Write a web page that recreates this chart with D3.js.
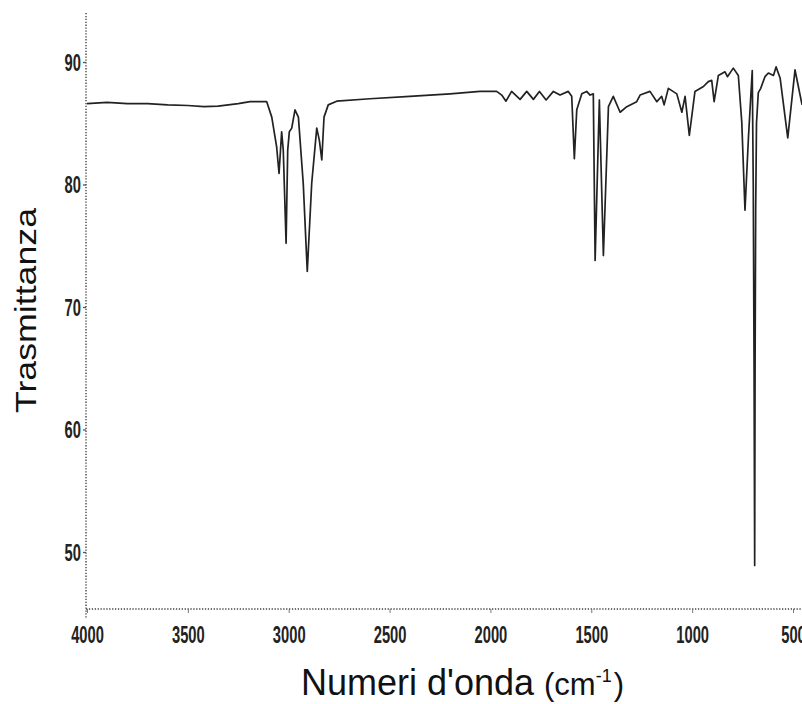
<!DOCTYPE html>
<html>
<head>
<meta charset="utf-8">
<script src="https://cdn.jsdelivr.net/npm/d3@7"></script>
<style>
  html, body { margin: 0; padding: 0; background: #fff; }
  svg { display: block; }
</style>
</head>
<body>
<svg id="chart" width="802" height="704"></svg>
<script>
// ---- data ----
const wavenumbers = [
  4000, 3900, 3800, 3700, 3600, 3500, 3420, 3350, 3250, 3192, 3109,
  3084, 3060, 3048, 3035, 3027, 3013, 3005, 2997, 2985, 2969, 2952, 2928, 2908, 2886,
  2861, 2848, 2836, 2825, 2804, 2762, 2597, 2400, 2200, 2052,
  1969, 1944, 1923, 1895, 1853, 1820, 1787, 1757, 1724, 1688, 1655, 1614, 1597, 1584,
  1572, 1547, 1523, 1506, 1490, 1481, 1460, 1440, 1415, 1391, 1357, 1324, 1275, 1258,
  1209, 1175, 1151, 1139, 1118, 1076, 1051, 1035, 1014, 986, 944, 920, 903, 891, 870,
  837, 825, 796, 771, 754, 738, 721, 702, 697, 693, 690, 688, 685, 681, 672, 660, 639, 622,
  597, 584, 564, 526, 490, 455
];
const transmittance = [
  86.6, 86.7, 86.6, 86.6, 86.5, 86.45, 86.35, 86.4, 86.6, 86.76, 86.76,
  85.5, 83.1, 80.9, 84.3, 82.8, 75.2, 82.8, 84.3, 84.6, 86.1, 85.5, 80.1, 72.9, 80.1,
  84.6, 83.6, 82.0, 85.5, 86.5, 86.8, 87.0, 87.2, 87.4, 87.6,
  87.6, 87.3, 86.8, 87.6, 86.95, 87.6, 86.95, 87.6, 86.9, 87.6, 87.3, 87.6, 87.2, 82.1,
  86.1, 87.4, 87.6, 87.3, 87.4, 73.8, 86.9, 74.2, 86.35, 87.2, 85.9, 86.35, 86.76, 87.3,
  87.6, 86.76, 87.2, 86.5, 87.85, 87.4, 85.9, 87.2, 84.0, 87.6, 88.0, 88.4, 88.5, 86.76, 88.9,
  89.2, 88.8, 89.5, 88.9, 85.1, 77.9, 83.8, 89.3, 80.0, 65.0, 48.9, 65.0, 78.0, 85.0, 87.5, 87.85, 88.8, 89.1,
  88.9, 89.6, 88.7, 83.8, 89.35, 86.5
];
const xTicks = [4000, 3500, 3000, 2500, 2000, 1500, 1000, 500];
const yTicks = [50, 60, 70, 80, 90];
const xTitle = "Numeri d'onda";
const yTitle = "Trasmittanza";

// ---- layout ----
const svg = d3.select("#chart");
const axisX0 = 86, axisX1 = 802;   // x-axis line extent
const axisY0 = 13, axisY1 = 609;   // y-axis line extent
const x = d3.scaleLinear().domain([4000, 500]).range([87, 793]);
const y = d3.scaleLinear().domain([50, 90]).range([552, 62]);
const ink = "#222";
const tickFont = "'Liberation Sans', Arial, sans-serif";

svg.append("rect").attr("width", 802).attr("height", 704).attr("fill", "#fff");

// dotted axis lines
svg.append("line")
  .attr("x1", axisX0).attr("x2", axisX0).attr("y1", axisY0).attr("y2", axisY1 + 9)
  .attr("stroke", "#444").attr("stroke-width", 1.4).attr("stroke-dasharray", "1.3,1.6");
svg.append("line")
  .attr("x1", axisX0).attr("x2", axisX1).attr("y1", axisY1).attr("y2", axisY1)
  .attr("stroke", "#444").attr("stroke-width", 1.4).attr("stroke-dasharray", "1.3,1.6");

// x axis ticks
const gx = svg.append("g").attr("transform", `translate(0,${axisY1})`)
  .call(d3.axisBottom(x).tickValues(xTicks).tickSize(4).tickSizeOuter(0).tickPadding(14)
    .tickFormat(d3.format("d")));
gx.select(".domain").remove();
gx.selectAll(".tick line").attr("stroke", "#777").attr("stroke-width", 1);
gx.selectAll(".tick text")
  .attr("fill", ink).attr("font-family", tickFont).attr("font-size", 23)
  .attr("font-weight", "bold")
  .attr("transform", "scale(0.64,1)").attr("dy", "0.71em");

// y axis ticks
const gy = svg.append("g").attr("transform", `translate(${axisX0},0)`)
  .call(d3.axisLeft(y).tickValues(yTicks).tickSize(3).tickSizeOuter(0).tickPadding(5)
    .tickFormat(d3.format("d")));
gy.select(".domain").remove();
gy.selectAll(".tick line").attr("stroke", "#555").attr("stroke-width", 1.3);
gy.selectAll(".tick text")
  .attr("fill", ink).attr("font-family", tickFont).attr("font-size", 23)
  .attr("font-weight", "bold")
  .attr("transform", "scale(0.64,1)").attr("dy", "0.36em");

// spectrum line
const data = wavenumbers.map((w, i) => [w, transmittance[i]]);
svg.append("path")
  .datum(data)
  .attr("fill", "none")
  .attr("stroke", ink)
  .attr("stroke-width", 1.7)
  .attr("stroke-linejoin", "round")
  .attr("d", d3.line().x(d => x(d[0])).y(d => y(d[1])));

// axis titles
svg.append("text")
  .attr("transform", "translate(36,310.5) rotate(-90)")
  .attr("text-anchor", "middle")
  .attr("font-family", "'Liberation Sans', Arial, sans-serif")
  .attr("font-size", 30)
  .attr("textLength", 205).attr("lengthAdjust", "spacingAndGlyphs")
  .attr("fill", "#111")
  .text(yTitle);

const t = svg.append("text")
  .attr("x", 301).attr("y", 695)
  .attr("font-family", "'Liberation Sans', Arial, sans-serif")
  .attr("fill", "#111");
t.append("tspan").attr("font-size", 36).text(xTitle);
t.append("tspan").attr("font-size", 31).attr("dx", 10).text("(cm");
t.append("tspan").attr("font-size", 18).attr("dy", -13).text("-1");
t.append("tspan").attr("font-size", 31).attr("dy", 13).attr("dx", 2).text(")");
</script>
</body>
</html>
